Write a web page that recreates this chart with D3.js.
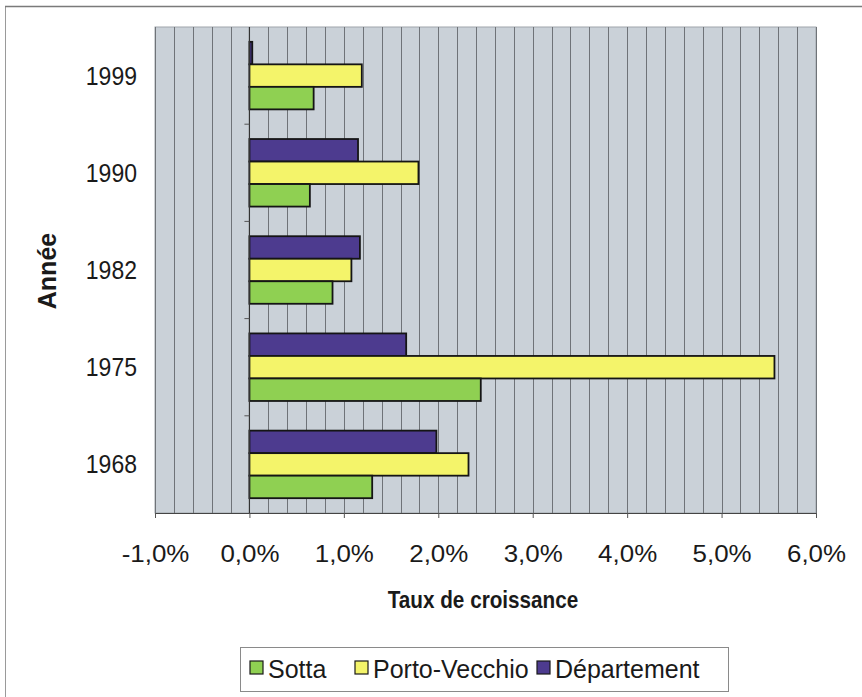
<!DOCTYPE html>
<html>
<head>
<meta charset="utf-8">
<script src="https://cdn.jsdelivr.net/npm/d3@7"></script>
<style>
  html, body { margin: 0; padding: 0; background: #ffffff; }
  svg { display: block; }
  text { font-family: "Liberation Sans", Arial, sans-serif; fill: #1a1a1a; }
</style>
</head>
<body>
<svg id="chart" width="862" height="697"></svg>
<script>
// ---- Data ----
const years = ["1999", "1990", "1982", "1975", "1968"];
const seriesNames = ["Département", "Porto-Vecchio", "Sotta"];
const sotta = [0.68, 0.64, 0.88, 2.45, 1.30];
const portoVecchio = [1.19, 1.79, 1.08, 5.56, 2.32];
const departement = [0.03, 1.15, 1.17, 1.66, 1.98];
const xTicks = [-1, 0, 1, 2, 3, 4, 5, 6];
const legendOrder = ["Sotta", "Porto-Vecchio", "Département"];

const colors = { "Sotta": "#8fd052", "Porto-Vecchio": "#f4f46a", "Département": "#4d3b8f" };
const valuesBy = { "Sotta": sotta, "Porto-Vecchio": portoVecchio, "Département": departement };

const svg = d3.select("#chart");
const pL = 155, pR = 816, pT = 27, pB = 513;

const x = d3.scaleLinear().domain([-1, 6]).range([pL, pR]);
const y = d3.scaleBand().domain(years).range([pT, pB]).paddingInner(0.305).paddingOuter(0.1525);
const ySub = d3.scaleBand().domain(seriesNames).range([0, y.bandwidth()]);

// outer chart border
svg.append("line").attr("x1", 5.5).attr("x2", 5.5).attr("y1", 6).attr("y2", 697).attr("stroke", "#9a9a9a").attr("stroke-width", 1);
svg.append("line").attr("x1", 5).attr("x2", 862).attr("y1", 6.5).attr("y2", 6.5).attr("stroke", "#7a7a7a").attr("stroke-width", 1.4);

// plot background
svg.append("rect").attr("x", pL).attr("y", pT).attr("width", pR - pL).attr("height", pB - pT)
  .attr("fill", "#cad1d8").attr("stroke", "#a0a6ac").attr("stroke-width", 1);

// gridlines every 0.2
const grid = d3.range(-10, 61, 2).map(v => v / 10);
svg.append("g").selectAll("line").data(grid).join("line")
  .attr("x1", d => Math.round(x(d)) + 0.5).attr("x2", d => Math.round(x(d)) + 0.5)
  .attr("y1", pT).attr("y2", pB)
  .attr("stroke", "#6f7378").attr("stroke-width", 1);

// bars
const groups = svg.append("g").selectAll("g").data(years).join("g")
  .attr("transform", d => `translate(0,${y(d)})`);
groups.each(function (yr, i) {
  const g = d3.select(this);
  seriesNames.forEach(s => {
    const v = valuesBy[s][i];
    g.append("rect")
      .attr("x", x(Math.min(0, v)))
      .attr("y", ySub(s))
      .attr("width", Math.abs(x(v) - x(0)))
      .attr("height", ySub.bandwidth())
      .attr("fill", colors[s])
      .attr("stroke", "#151515").attr("stroke-width", 1.8);
  });
});

// x axis
const fmt = d3.formatLocale({ decimal: ",", thousands: " ", grouping: [3], currency: ["", "€"], minus: "-" }).format(".1f");
const xAxis = svg.append("g").attr("transform", `translate(0,${pB})`)
  .call(d3.axisBottom(x).tickValues(xTicks).tickSize(5).tickSizeOuter(0).tickFormat(d => fmt(d) + "%"));
xAxis.select(".domain").attr("stroke", "#444").attr("stroke-width", 1.2);
xAxis.selectAll(".tick line").attr("stroke", "#555");
xAxis.selectAll(".tick text").attr("y", 49).attr("dy", 0)
  .style("font-size", "24px").attr("transform", "scale(1.08,1)").attr("fill", "#1a1a1a");

// y axis at zero
const yAxisG = svg.append("g").attr("transform", `translate(${x(0)},0)`);
yAxisG.append("line").attr("x1", 0).attr("x2", 0).attr("y1", pT).attr("y2", pB).attr("stroke", "#333").attr("stroke-width", 1.2);
const bounds = years.slice(1).map(d => y(d) - y.step() * y.paddingInner() / 2);
yAxisG.selectAll("line.tk").data(bounds).join("line").attr("class", "tk")
  .attr("x1", -5).attr("x2", 0).attr("y1", d => d).attr("y2", d => d).attr("stroke", "#555");

// year labels
svg.append("g").selectAll("text").data(years).join("text")
  .attr("transform", d => `translate(137,${y(d) + y.bandwidth() / 2}) scale(0.92,1)`)
  .attr("dy", "0.36em").attr("text-anchor", "end")
  .style("font-size", "25px").text(d => d);

// axis titles
svg.append("text").attr("transform", "translate(56,271) rotate(-90)")
  .attr("text-anchor", "middle").style("font-size", "25px").style("font-weight", "bold").text("Année");
svg.append("text").attr("transform", "translate(483,608) scale(0.9,1)").attr("text-anchor", "middle")
  .style("font-size", "23px").style("font-weight", "bold").text("Taux de croissance");

// legend
const lg = svg.append("g");
lg.append("rect").attr("x", 240.5).attr("y", 647.5).attr("width", 488).attr("height", 44)
  .attr("fill", "#ffffff").attr("stroke", "#8a8a8a").attr("stroke-width", 1);
const legendX = { "Sotta": 250, "Porto-Vecchio": 355, "Département": 537 };
legendOrder.forEach(s => {
  lg.append("rect").attr("x", legendX[s]).attr("y", 661).attr("width", 13).attr("height", 13)
    .attr("fill", colors[s]).attr("stroke", "#1a1a1a").attr("stroke-width", 1.2);
  lg.append("text").attr("x", legendX[s] + 18).attr("y", 678)
    .style("font-size", "25px").text(s);
});
</script>
</body>
</html>
